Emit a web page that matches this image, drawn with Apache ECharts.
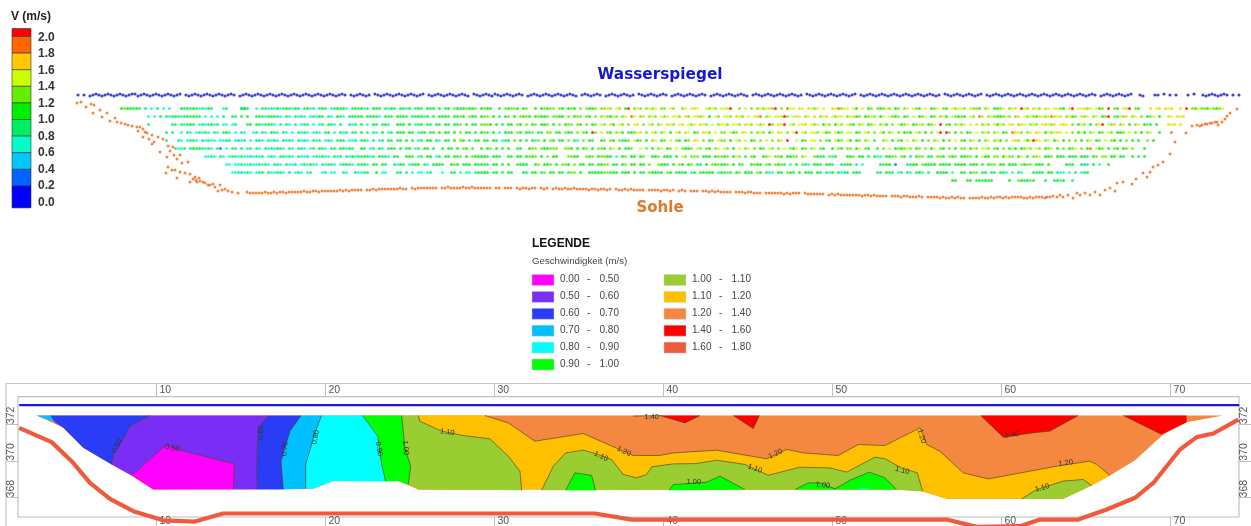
<!DOCTYPE html>
<html><head><meta charset="utf-8">
<style>html,body{margin:0;padding:0;background:#fff;overflow:hidden}#c{width:1251px;height:526px}</style>
<script src="https://cdn.jsdelivr.net/npm/echarts@6/dist/echarts.min.js"></script>
</head><body><div id="c"></div>
<script>
// ---------- velocity scale (top left) ----------
const scaleLabels = ['2.0','1.8','1.6','1.4','1.2','1.0','0.8','0.6','0.4','0.2','0.0'];
const scaleColors = ['#ff0000','#ff6600','#ffc800','#ccff00','#66ee00','#00ee00','#00ee66','#00ffc8','#00c8ff','#0064ff','#0000ff'];
// ---------- legend of the contour plot ----------
const legendRanges = [['0.00','0.50'],['0.50','0.60'],['0.60','0.70'],['0.70','0.80'],['0.80','0.90'],['0.90','1.00'],
                      ['1.00','1.10'],['1.10','1.20'],['1.20','1.40'],['1.40','1.60'],['1.60','1.80']];
const legendColors = ['#ff00ff','#7a2df5','#2a3cf5','#00c0ff','#00ffff','#00ff00','#9acd32','#ffc000','#f58840','#ff0000','#f05a3c'];
// ---------- measured points: per row, one string per 120 dm stretch, one char per 3 dm ----------
const classVelocity = {z:0.3,a:0.5,b:0.7,c:0.9,d:1.1,e:1.3,f:1.5,g:1.7,h:1.9,i:2.1};
const rowDepths = [13.5,21.5,29.5,37.5,45.5,53.5,61.5,69.5,77.5,85.5];
const row01 = ["deddcdc.c.b.c.b.b...dcdcdcbcbdc...bc....cc","cdc..b.ccbcbdbcdcbdc.cdbc.cdc.bcdcdb.cdc","dbc.dcd.cbdc.dcbd.cdc.dcd.d.cd.edcdedde.","dedd..d.edeed.de..d.dedee.ed.ded.e.edde.","eefe.fe.di.efe.efef.ee.fe..ef.fgf..fefe.","ffgi..e.f.e.efefgei.e.hff.gf.gfef.f..gfh","eff.fd.f.de.edefe.de.ef.fed.f.def.ed.fef","fe.feed.ef.ddef.efg.ife.gfe.gf.ffed.gi.f","fgef.fde.i.ed.fgi.ed...g.fg.gfg..g.i.edf","eedfedef"];
const row02 = [".........b.b.c.cbcdcbcdcdcc.b.b.b.c..cc.","c.d..cdcbcdccb.cb.cbcb.bcbdc.cb.dcb.cdcc","d.dcdcb.dcc.dcdc.ccdcbd.c.dcdc.dced.edc.","dee.d.c.de.d.eded.dedde.eedd.e.dee.ed.e.","efedfe.ef.hf.eg.efe.fef.ffe.ge.fgef.d.fe",".ffe.gfe.f.fgh.ef.ffgie.fgf.ef.g.efg.fef","f.efgde.defe.df.fede.de.f.def.de.efd.fed","ed.fe.hg.efeddefe.eg.fefedgfefhgfg.efde.","gef.ef.dei.edfeg.ef.e.def.d..gf.gfg.....","........"];
const row03 = [".........c.......cc.cbcdc.bcbcdbc.bb.bc.","..cd.dcbcdcb.c.cb.c.bcc.b.bc.dcb.c..cbc.","d.b.dc.cdb..dcd.d.bcd.cc.dc.dc.dce.d.cd.","eeed.d.c.dd.ed.e.de.dde.d.e.dee.ed.e.de.","fe.gd.fe.e.fg.e.fe.ef.gfe.fg.fef.gfe.f.e","ffe.ffe.gfe.fef.ie.gfi.fe.ffg.fef.dfe.df","e.fed.ef.def.efd.e.fdef.defe.def.i.ed.ef","ef.f.g.efe.fdfe.fg.egf.efe.fgfeg.fgf.e.d","fe.d.efi.feg.ef.d.ef.dec.d...gfg.g......","........"];
const row04 = ["...............c.c..b.cb.bcbcb.cb.cdb.b.","cb..bc.cb.dcb.cb.b.cbcb.bcb.cd.b.cbc.cc.","d.c.cb.d.bc.dcd.dc.bcd.cc.d.dc.d.e.dc.d.","dec.d.b.dcd.ed.dce.cc.ee.cd.edc.e.ed.ie.","f.ed.efd.cdefg.e.fe.ef.d.fe.gf.de.gfe.f.","ee.fde.gf.e.efe.df.gf.e.fi.fe.ffe.fde.fd","e.ff.de.fe.e.fd.ef.e.ded.fe.d.e.fi.ie.d.","e.de.f.efe.ef.de.hgfe.ef.gf.dfefgf.f.e.d","fd.ef.de.fe.dde.f.e.d.ef..d...h.........","........"];
const row05 = ["...............c...cb.bccb.abcbb.bbcc.ba","bc.b.cab.cbcb.abcb.cbab.cbc.bcb.cdc.bbc.","cdb.c.bc.dc.cd.d.c.bc.dd.cb.dc.d.ed.c.cd",".dc.dc.bcd.e.d.c.dbe.d.ed.cd.e.cb.e.dc.","de.ed.ecde.fde.d.ef.de.f.ed.de.gf.e.de.f","ee.d.fe.f.de.e.f.e.ef.i..f.de.ff.e.ed.fd","e.fd.de.ef.c..ef.d.ed.f.ef.d.e.ef.d.e.f.","ed.ef.d.ef.efd.e.fge.fdfigf.ef.df.d.e.e.","d.ef.de.f.ed.d.e.d.d..e.d...............","........"];
const row06 = ["..................cbbc.cdcdcbcb.cz.b.cc.","c.bc.cb.cbcbdcb.cb.cab.bc.dcb.cc.dcbdc..","dc.bc.db.cdc.d.cd.bc.dd.c..d.dc.d.ed.c..","d.de.d.c.d..cd..dee.eddeee..eed.d.de.d.e","ed.ef.d.cde..f.e.d.ef.de.f.edde.fe.ed.ef",".fe.d.f.ef.e.de.fe.e.f.edf.de.ef.ed..d.e","d.ee.df.ed..c.e.f.dedefe.de.e.df.ed.e.d.","ee.dfe.ffe.ed.e.cfd.defe.fe.def.d.e.def.","e.dh.fde.d.ed.de.e...d..................","........"];
const row07 = ["............................bbcb.cb.bccb","cbbabcbc.bcb.ccbcb.cbba.bcbdbb.cbc.cbdbc","cdcbc.dccb.dc..ddc.bc.dd.bc.dd.dce.d.edd","ddc.ddc..dc.dd.dede.d.e.dd...eedd..ede.d","eedd.b.de.dd.de..dde.ddc.d.fe.eee.cdd.de","ede.dfe.c.ed..def.eed.ddee.ef..edcc.ebd.","..dde.dd.c.dbb.ddee.ed.a.dee.cd.eed.ede.","ddee.d.fdd.ee.dfee.df.d.eef.dde.ddc.dcd.","ddc.de.ee.dd.dc..d.c.d..................","........"];
const row08 = ["...................................bb.bb","cbbcbbcbcb.ccb.cbba.bcbdbb.cbccb.bcdcb.c","cdb.dc.dc..cbdc.bcdd.cb.cddc..ded.cdd.dc","dcc.dd.c.d..cddc..de.dde.d.eed.e.dd.dc.d","dee.da.de.dd.dd.e..eddc.d.ed.de.cc.d.ede","dde.d.ce..dedd.ed.edec.b.d.ecb.ddc.ddc..","ccdd.c.b.....ccdd.z...ccdd.eddcd.ddcd.cd","dd.cdd.c.dee.dd.dcd.edee.ddc.d.....dcd..","dac.d.b..d..............................","........"];
const row09 = [".....................................bbc","abcb.bcc.cbbccb.a.bcb.bc...bc.bb..cb..cb","bcc..d.bb...cc.c.b.bb.bc...b..cc.b.bb.bd","cdd.cd.c.dc...dc.dd.ce.dc.dc.cee.d..dcdd","deecdd.cdd.d.cd.eddcd.ed.cdcd.bd.cdcdd.b","dcec.de.dcd.ed.cbb.dc.edc.d.dcd.dc.cbd.d","bad.cdc.....cc.dcc.bc.cb.cdb.c..dcdd.b..","dc.dee.cd.cc.dcb.b.cb...ccdc.dd.cbb.b.c.","bcd.....................................","........"];
const row10 = ["","","","","","",".....................................dd.","..dd.cdcdcd.....d..edcdec...d..cdbd..c.","........................................","........"];
const velocityRows = [row01,row02,row03,row04,row05,row06,row07,row08,row09,row10];
// water surface dots: depth offset per 3 dm, starting at 78 dm
const waterRow = ["1.1.2101210121012100210121012101210.1210","1210121012101.21012101210121012101210121","0121012101.1210121.01210121012101210.121","01210121012.01210120121012101.2101210121","0121012.1012101.2101210121.0121012101.21","0121012101.2101210121012.101210121012101","21.01210121012101210.1210121012101210121","01210121.0121012101210.12101210121012101","21012101210121012101.21012101210..12...1","1.0.1.1...1.0..121012101.1.1"];
// river-bed dots: steep left bank, then flat stretch per 3 dm from 250 dm, then right bank
const bedLeftX = [77,81,86,91,94,93,100,102,107,110,115,117,121,125,128,132,137,140,138,143,145,147,152,143,149,154,158,163,152,168,173,170,160,174,167,180,177,182,188,168,172,166,175,180,185,190,195,177,190,199,203,208,197,213,220,218,225,232,238,247,193,196,200,205,210,215,222,228];
const bedLeftD = [8,7,12,9,10,18,15,22,18,26,23,27,28,29,30,31,32,32,36,34,37,38,40,42,44,47,42,44,49,51,52,56,57,60,62,60,64,68,67,72,75,78,75,77,78,79,82,83,87,83,87,90,87,89,90,96,94,97,98,97,84,85,86,88,90,92,95,96];
const bedFlat = [98,98,98,98,98,97,98,98,97,98,97,97,98,97,97,97,97,97,96,97,97,96,96,97,96,96,96,96,96,96,95,96,95,96,95,95,95,95,0,95,95,94,95,94,94,94,94,94,94,94,93,94,94,0,93,94,93,93,93,93,93,93,93,0,93,93,92,93,93,93,93,92,93,93,92,93,93,93,93,93,93,0,93,93,0,93,93,93,0,93,94,93,93,94,93,93,0,93,94,93,0,94,93,94,94,93,94,94,93,94,94,94,94,95,94,94,95,94,94,95,94,0,94,95,95,94,95,94,95,95,95,95,0,95,95,95,95,96,95,95,96,95,0,96,95,96,0,96,96,96,0,96,96,97,96,97,96,97,97,97,97,0,97,97,97,98,97,97,98,98,98,0,98,98,98,98,98,98,99,98,99,98,98,98,0,98,99,99,99,99,99,99,0,100,99,100,99,100,100,100,100,100,100,100,101,100,100,101,100,101,101,101,101,0,101,101,101,102,101,101,102,102,102,101,102,0,102,102,102,102,103,102,103,103,102,103,102,103,103,0,103,103,103,103,102,103,103,102,103,102,102,103,102,103,102,102,102,102,103,103,102,103,102,102,102,103];
const bedRightX = [1047,1050,1053,1057,1060,1063,1068,1073,1077,1080,1085,1090,1095,1100,1105,1110,1115,1117,1123,1132,1136,1143,1147,1150,1153,1158,1163,1170,1175,1186,1192,1197,1200,1202,1205,1207,1210,1212,1215,1217,1218,1222,1225,1227,1230,1237];
const bedRightD = [102,102,101,102,100,102,100,103,98,100,98,100,97,100,95,93,96,88,87,89,84,78,82,77,72,70,67,59,47,38,31,30,31,30,29,29,28,28,27,27,30,27,24,21,18,14];
// ---------- contour plot: contour lines and regions as [station, elevation] ----------
const stationTicks = [10,20,30,40,50,60,70];
const elevationTicks = [368,370,372];
const waterLine = [[1.88,373.04],[74.07,373.04]];
const bedLine = [[1.88,371.8],[3.8,371.02],[4.98,369.98],[6.07,368.79],[7.25,367.92],[8.63,367.25],[10.4,366.75],[12.28,366.68],[13.95,367.12],[35.95,367.12],[38.11,366.79],[56.75,366.79],[58.53,366.39],[61.09,366.43],[62.28,366.79],[64.54,366.79],[66.22,367.34],[67.9,367.98],[68.98,368.79],[70.56,370.62],[71.55,371.29],[72.53,371.49],[74.01,372.25]];
const sectionOutline = [[2.91,372.47],[73.12,372.47],[70.95,372.11],[69.57,371.44],[67.9,370.03],[66.42,369.2],[65.33,368.65],[63.66,367.92],[56.75,367.92],[55.27,368.34],[53.7,368.43],[25.49,368.43],[24.31,368.9],[20.46,368.9],[19.28,368.47],[9.81,368.43],[8.53,369.2],[7.35,369.8],[5.67,370.71],[4.49,371.8]];
const c050a = [[9.62,372.47],[8.43,371.89],[8.14,371.34],[7.45,370.34],[7.35,369.8]];
const c050b = [[8.53,369.2],[10.56,370.85],[11.39,370.58],[14.61,369.83],[14.55,368.43]];
const c060 = [[16.62,372.47],[16.03,371.8],[15.93,369.7],[15.97,368.43]];
const c070 = [[18.55,372.47],[17.9,371.62],[17.37,369.98],[17.5,368.43]];
const c080 = [[19.77,372.47],[19.38,371.53],[18.83,369.8],[18.83,368.47]];
const c090 = [[22.2,372.47],[23.09,371.34],[23.32,369.85],[23.56,368.87]];
const c100a = [[24.51,372.47],[24.7,370.71],[25.04,369.7],[24.9,368.7]];
const c110a = [[25.49,372.47],[25.59,372.16],[26.87,371.62],[28.15,371.38],[29.73,371.2],[30.82,370.25],[31.51,369.43],[31.61,368.39]];
const c110b = [[32.79,368.39],[33.48,369.7],[34.21,370.43],[35.25,370.58],[35.95,370.4],[36.93,370.07],[37.62,369.25],[38.41,369.07],[39.0,369.25],[39.3,369.67],[40.58,369.83],[41.96,369.85],[43.14,370.03],[44.82,369.8],[46.2,369.21],[48.08,369.65],[49.85,369.61],[50.84,369.38],[52.51,370.2],[53.1,370.11],[54.09,369.61],[55.02,369.34],[55.33,368.34]];
const c110c = [[61.19,367.92],[62.08,368.43],[63.66,368.89],[64.84,368.98],[65.33,368.65]];
const c120 = [[29.44,372.47],[30.82,372.07],[32.39,371.07],[35.25,371.49],[38.21,370.29],[39.79,370.29],[40.58,370.43],[43.14,370.58],[46.1,370.11],[47.29,370.62],[48.27,370.43],[50.34,370.29],[51.53,370.89],[53.1,370.83],[55.18,371.8],[55.57,370.89],[56.36,370.52],[57.74,369.34],[59.22,369.01],[63.46,369.74],[65.23,369.98],[65.63,369.8],[66.42,369.2]];
const c100b = [[34.21,368.39],[34.76,369.34],[35.75,369.2],[35.98,368.39]];
const c100c = [[40.34,368.39],[40.58,368.7],[42.55,368.83],[43.34,369.16],[44.82,368.43]];
const c100d = [[47.78,368.43],[48.57,368.79],[49.26,368.79],[50.15,368.47],[51.03,368.94],[52.18,369.38],[53.1,369.07],[53.7,368.52],[53.79,368.43]];
const c140a = [[38.21,372.44],[39.79,372.47],[41.27,372.07],[42.16,372.47]];
const c140b = [[44.13,372.47],[45.31,371.76],[45.67,372.47]];
const c140c = [[58.77,372.47],[60.11,371.29],[61.88,371.53],[62.87,371.62],[64.54,372.47]];
const c140d = [[67.21,372.47],[69.48,371.44]];
const contourLines = [c050a,c050b,c060,c070,c080,c090,c100a,c110a,c110b,c110c,c120,c100b,c100c,c100d,c140a,c140b,c140c,c140d];
const contourLabels = [['0.50',7.68,370.8,60],['0.50',10.94,370.71,-10],['0.60',16.16,371.53,90],['0.70',17.6,370.65,85],['0.80',19.42,371.29,80],['0.90',23.17,370.65,-80],['1.00',24.74,370.71,-85],['1.10',27.21,371.56,-8],['1.40',39.3,372.4,0],['1.10',36.3,370.25,-25],['1.20',37.66,370.52,-25],['1.00',41.8,368.85,0],['1.20',46.63,370.38,25],['1.10',45.41,369.58,-20],['1.00',49.42,368.67,-8],['1.20',55.27,371.34,-75],['1.10',54.13,369.47,-15],['1.40',60.6,371.42,5],['1.20',63.8,369.87,8],['1.10',62.41,368.52,15]];
const regions = [
 {band:8, pts:sectionOutline},
 {band:7, pts:[[25.49,368.43],...[[25.49,372.47]],...c120,[65.33,368.65],[63.66,367.92],[56.75,367.92],[55.27,368.34],[53.7,368.43]]},
 {band:6, pts:[[24.51,372.47],...c110a,[25.49,368.43],[24.9,368.7],[25.04,369.7],[24.7,370.71]]},
 {band:6, pts:[...c110b,[53.7,368.43]]},
 {band:6, pts:[...c110c,[63.66,367.92]]},
 {band:5, pts:[...c090,[24.31,368.9],[24.9,368.7],[25.04,369.7],[24.7,370.71],[24.51,372.47]]},
 {band:4, pts:[...c080,[19.28,368.47],[20.46,368.9],[23.56,368.87],[23.32,369.85],[23.09,371.34],[22.2,372.47]]},
 {band:3, pts:[...c070,[18.83,368.47],[18.83,369.8],[19.38,371.53],[19.77,372.47]]},
 {band:2, pts:[...c060,[17.5,368.43],[17.37,369.98],[17.9,371.62],[18.55,372.47]]},
 {band:1, pts:[...c050a,[8.53,369.2],[10.56,370.85],[11.39,370.58],[14.61,369.83],[14.55,368.43],[15.97,368.43],[15.93,369.7],[16.03,371.8],[16.62,372.47]]},
 {band:0, pts:[[8.53,369.2],[10.56,370.85],[11.39,370.58],[14.61,369.83],[14.55,368.43],[9.81,368.43]]},
 {band:2, pts:[[3.7,372.47],...c050a,[5.67,370.71],[4.49,371.8],[3.99,372.11]]},
 {band:3, pts:[[2.91,372.47],[3.7,372.47],[3.99,372.11]]},
 {band:5, pts:c100b},{band:5, pts:c100c},{band:5, pts:c100d},
 {band:4, pts:[[51.43,368.43],[51.72,368.52],[52.41,368.43]]},
 {band:9, pts:[[39.79,372.47],[41.27,372.07],[42.16,372.47]]},
 {band:9, pts:c140b},{band:9, pts:c140c},
 {band:9, pts:[[67.21,372.47],[69.48,371.44],[70.95,372.11],[70.95,372.47]]}
];
// ---------- build scatter data ----------
const velocityPoints = [];
velocityRows.forEach((row,r)=>row.forEach((chunk,k)=>[...chunk].forEach((ch,i)=>{
  if(classVelocity[ch]!==undefined) velocityPoints.push([120+120*k+3*i+1.5,rowDepths[r],classVelocity[ch]]);
})));
const waterPoints = [];
waterRow.forEach((chunk,k)=>[...chunk].forEach((ch,i)=>{ if(ch!=='.') waterPoints.push([78+120*k+3*i,Number(ch)-1]); }));
const bedPoints = bedLeftX.map((x,i)=>[x,bedLeftD[i]]);
bedFlat.forEach((d,i)=>{ if(d) bedPoints.push([250+3*i,d]); });
bedRightX.forEach((x,i)=>bedPoints.push([x,bedRightD[i]]));

// ---------- graphic: velocity scale and legend ----------
const g = [];
const sansBold = 'bold 12px "Liberation Sans",Arial,sans-serif';
g.push({type:'text',left:11,top:10.5,style:{text:'V (m/s)',font:sansBold,fill:'#222'}});
const bandH = 16.6, barTop = 36.5;
g.push({type:'rect',shape:{x:12,y:28.5,width:19,height:8},style:{fill:scaleColors[0],stroke:'#333',lineWidth:0.6}});
scaleColors.slice(1).forEach((c,i)=>{
  const h = i===scaleColors.length-2 ? 22 : bandH;
  g.push({type:'rect',shape:{x:12,y:barTop+i*bandH,width:19,height:h},style:{fill:c,stroke:'#333',lineWidth:0.6}});
});
scaleLabels.forEach((t,i)=>g.push({type:'text',x:38,y:31.6+i*16.5,style:{text:t,font:sansBold,fill:'#333'}}));
g.push({type:'text',x:532,y:238,style:{text:'LEGENDE',font:sansBold,fill:'#111'}});
g.push({type:'text',x:532,y:256,style:{text:'Geschwindigkeit (m/s)',font:'9.7px "Liberation Sans",Arial,sans-serif',fill:'#444'}});
legendRanges.forEach((r,i)=>{
  const col = i<6?0:1, row = i<6?i:i-6;
  const sx = col?664:532, cy = 280+row*16.9;
  g.push({type:'rect',shape:{x:sx,y:cy-5.5,width:22,height:11},style:{fill:legendColors[i],stroke:'#d0d0d0',lineWidth:0.5}});
  const font='10px "Liberation Sans",Arial,sans-serif';
  [[r[0],sx+28],['-',sx+55],[r[1],sx+67.5]].forEach(([t,x])=>g.push({type:'text',x,y:cy-5.5,style:{text:t,font,fill:'#444'}}));
});
g.push({type:'text',x:660,y:75,style:{text:'Wasserspiegel',font:'bold 15.3px "DejaVu Sans",sans-serif',fill:'#1616d8',align:'center',verticalAlign:'middle'}});
g.push({type:'text',x:660,y:208,style:{text:'Sohle',font:'bold 15px "DejaVu Sans",sans-serif',fill:'#e07a28',align:'center',verticalAlign:'middle'}});
// outer frame of the contour plot
g.push({type:'line',shape:{x1:6,y1:383.5,x2:1251,y2:383.5},style:{stroke:'#c4c4c4',lineWidth:1.2}});
g.push({type:'line',shape:{x1:6,y1:383.5,x2:6,y2:526},style:{stroke:'#c4c4c4',lineWidth:1.2}});

const chart = echarts.init(document.getElementById('c'),null,{renderer:'canvas'});
const axLab = '#555', axLine='#c0c0c0';
const pathOf = (pts,api)=>pts.map(p=>api.coord(p));
chart.setOption({
  animation:false, backgroundColor:'#fff', graphic:g,
  grid:[{left:0,top:0,width:1251,height:226,show:false,outerBoundsMode:'none'},
        {left:18,top:396.7,width:1221,height:120.3,show:true,borderColor:axLine,borderWidth:1.2,backgroundColor:'transparent',outerBoundsMode:'none'}],
  xAxis:[
    {gridIndex:0,type:'value',min:0,max:1251,show:false},
    {gridIndex:1,type:'value',min:1.81,max:74.05,position:'top',axisLine:{show:false},splitLine:{show:false},
     axisTick:{show:true,length:13.5,lineStyle:{color:axLine,width:1},customValues:stationTicks},
     axisLabel:{show:true,customValues:stationTicks,align:'left',padding:[0,0,0,3],margin:1,fontSize:10.5,color:axLab,fontFamily:'"Liberation Sans",Arial'}},
    {gridIndex:1,type:'value',min:1.81,max:74.05,position:'bottom',axisLine:{show:false},splitLine:{show:false},
     axisTick:{show:true,length:13.5,lineStyle:{color:axLine,width:1},customValues:stationTicks},
     axisLabel:{show:true,customValues:stationTicks,align:'left',padding:[0,0,0,3],margin:-1,fontSize:10.5,color:axLab,fontFamily:'"Liberation Sans",Arial'}}
  ],
  yAxis:[
    {gridIndex:0,type:'value',min:-95,max:131,inverse:true,show:false},
    {gridIndex:1,type:'value',min:366.93,max:373.5,position:'left',axisLine:{show:false},splitLine:{show:false},
     axisTick:{show:true,length:12,lineStyle:{color:axLine,width:1},customValues:elevationTicks},
     axisLabel:{show:true,customValues:elevationTicks,rotate:90,align:'left',verticalAlign:'middle',margin:7,fontSize:10.5,color:axLab,fontFamily:'"Liberation Sans",Arial'}},
    {gridIndex:1,type:'value',min:366.93,max:373.5,position:'right',axisLine:{show:false},splitLine:{show:false},
     axisTick:{show:true,length:12,lineStyle:{color:axLine,width:1},customValues:elevationTicks},
     axisLabel:{show:true,customValues:elevationTicks,rotate:90,align:'left',verticalAlign:'middle',margin:5,fontSize:10.5,color:axLab,fontFamily:'"Liberation Sans",Arial'}}
  ],
  visualMap:[{show:false,type:'piecewise',seriesIndex:0,dimension:2,pieces:[
    {min:2.0,color:scaleColors[0]},{min:1.8,max:2.0,color:scaleColors[1]},{min:1.6,max:1.8,color:scaleColors[2]},{min:1.4,max:1.6,color:scaleColors[3]},
    {min:1.2,max:1.4,color:scaleColors[4]},{min:1.0,max:1.2,color:scaleColors[5]},{min:0.8,max:1.0,color:scaleColors[6]},{min:0.6,max:0.8,color:scaleColors[7]},
    {min:0.4,max:0.6,color:scaleColors[8]},{min:0.2,max:0.4,color:scaleColors[9]},{max:0.2,color:scaleColors[10]}]}],
  series:[
    {type:'scatter',xAxisIndex:0,yAxisIndex:0,data:velocityPoints,symbolSize:3,silent:true},
    {type:'scatter',xAxisIndex:0,yAxisIndex:0,data:waterPoints,symbolSize:3.2,silent:true,itemStyle:{color:'#1414d0'}},
    {type:'scatter',xAxisIndex:0,yAxisIndex:0,data:bedPoints,symbolSize:3,silent:true,itemStyle:{color:'#f06a18'}},
    {type:'custom',xAxisIndex:1,yAxisIndex:1,clip:false,silent:true,data:regions.map((_,i)=>[i]),encode:{x:-1,y:-1},
     renderItem:(p,api)=>{const r=regions[p.dataIndex];return {type:'polygon',shape:{points:pathOf(r.pts,api)},style:{fill:legendColors[r.band],stroke:null}};}},
    {type:'custom',xAxisIndex:1,yAxisIndex:1,clip:false,silent:true,data:contourLines.map((_,i)=>[i]),encode:{x:-1,y:-1},
     renderItem:(p,api)=>({type:'polyline',shape:{points:pathOf(contourLines[p.dataIndex],api)},style:{fill:null,stroke:'#3a3a28',lineWidth:0.6}})},
    {type:'custom',xAxisIndex:1,yAxisIndex:1,clip:false,silent:true,data:contourLabels.map((_,i)=>[i]),encode:{x:-1,y:-1},
     renderItem:(p,api)=>{const l=contourLabels[p.dataIndex],c=api.coord([l[1],l[2]]);
       return {type:'text',x:c[0],y:c[1],rotation:l[3]*Math.PI/180,originX:0,originY:0,style:{text:l[0],align:'center',verticalAlign:'middle',font:'7.5px "Liberation Sans",Arial',fill:'#333'}};}},
    {type:'line',xAxisIndex:1,yAxisIndex:1,data:waterLine,showSymbol:false,silent:true,clip:false,lineStyle:{color:'#1818e0',width:2.2}},
    {type:'line',xAxisIndex:1,yAxisIndex:1,data:bedLine,showSymbol:false,silent:true,clip:false,z:3,lineStyle:{color:'#f05a3c',width:4.2,join:'round'}}
  ]
});
</script></body></html>
